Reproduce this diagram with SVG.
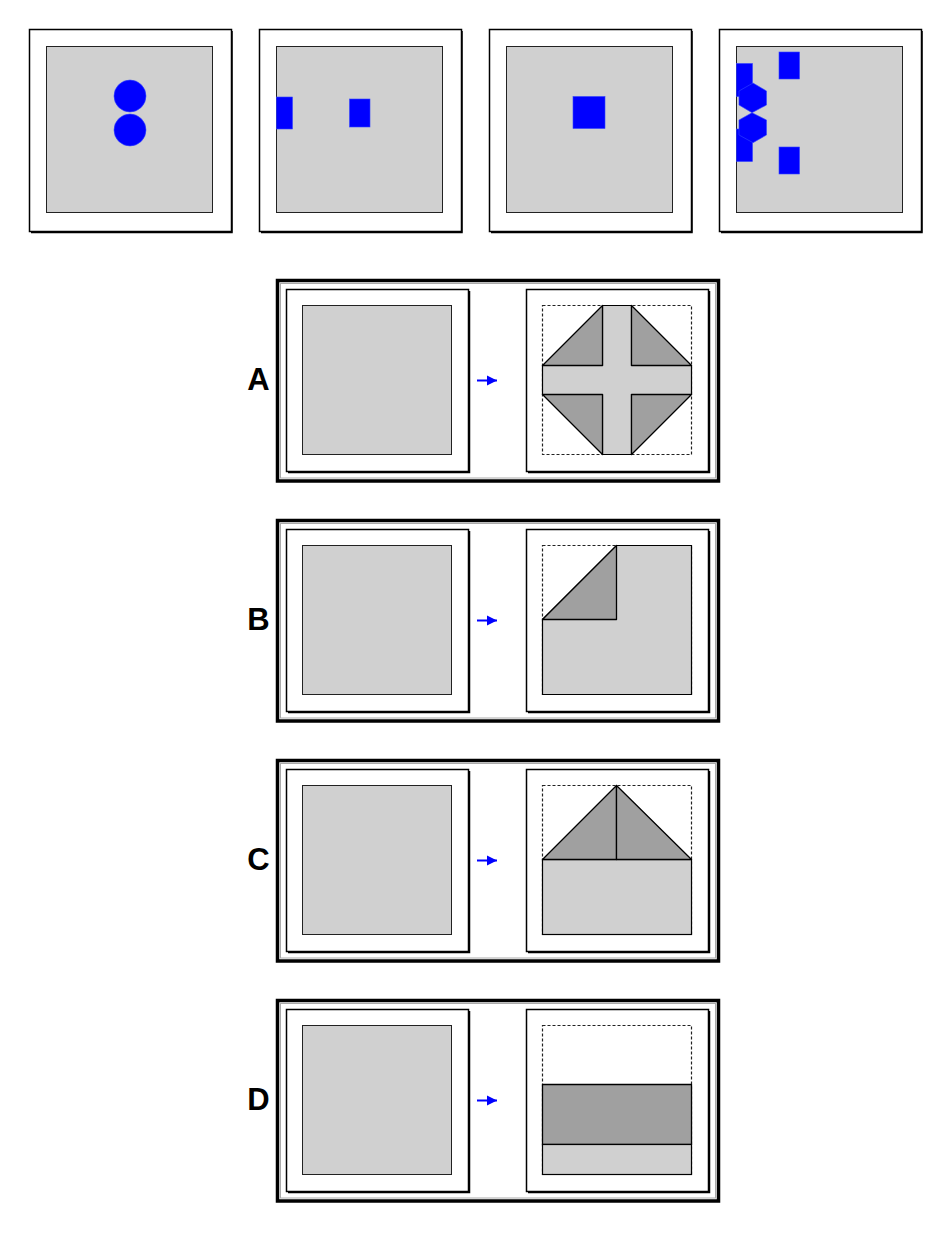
<svg xmlns="http://www.w3.org/2000/svg" width="950" height="1240" viewBox="0 0 950 1240">
<defs>
<style>
.frame{fill:#fff;stroke:#000;stroke-width:1.5}
.shadow{fill:none;stroke:#000;stroke-width:1.5}
.sq{fill:#d0d0d0;stroke:#222;stroke-width:1}
.blue{fill:#0000ff;stroke:#3344ff;stroke-width:0.6}
.opt{fill:#fff;stroke:#000;stroke-width:3.5}
.optin{fill:none;stroke:#aaa;stroke-width:1}
.dash{fill:#fff;stroke:#222;stroke-width:1.2;stroke-dasharray:3,2}
.lg{fill:#d0d0d0;stroke:#000;stroke-width:1.2}
.dk{fill:#a0a0a0;stroke:#000;stroke-width:1.3;stroke-linejoin:round}
.lbl{font-family:"Liberation Sans",Arial,sans-serif;font-weight:bold;font-size:31px;fill:#000;text-anchor:middle}
.arr{stroke:#0000ff;stroke-width:2;fill:none}
</style>
<marker id="ah" viewBox="0 0 10 10" refX="10" refY="5" markerWidth="10" markerHeight="11" markerUnits="userSpaceOnUse" orient="auto">
<path d="M0,0 L10,5 L0,10 Z" fill="#0000ff"/>
</marker>
<g id="panelFrame">
<rect class="frame" x="29.5" y="29.5" width="202" height="202"/>
<polyline class="shadow" points="232,31 232,232.5 31,232.5"/>
<rect class="sq" x="46.5" y="46.5" width="166" height="166"/>
</g>
<g id="boxFrame">
<rect class="frame" x="286.5" y="289.5" width="182" height="182"/>
<polyline class="shadow" points="469.5,291 469.5,472.5 288,472.5"/>
</g>
<g id="optFrame">
<rect class="opt" x="277.5" y="280.5" width="441" height="200.5"/>
<rect class="optin" x="280.5" y="283.5" width="435" height="194.5"/>
</g>
</defs>

<g id="q1">
<use href="#panelFrame"/>
<circle class="blue" cx="130" cy="96" r="16"/>
<circle class="blue" cx="130" cy="130" r="16"/>
</g>
<g id="q2">
<use href="#panelFrame" x="230"/>
<rect class="blue" x="276.5" y="97" width="16" height="32"/>
<rect class="blue" x="349.5" y="99" width="20.5" height="28"/>
</g>
<g id="q3">
<use href="#panelFrame" x="460"/>
<rect class="blue" x="573" y="96.5" width="32" height="32"/>
</g>
<g id="q4">
<use href="#panelFrame" x="690"/>
<rect class="blue" x="779" y="52" width="20.5" height="27"/>
<rect class="blue" x="779" y="147" width="20.5" height="27"/>
<rect class="blue" x="736.5" y="63.5" width="16" height="33"/>
<rect class="blue" x="736.5" y="129" width="16" height="32.5"/>
<polygon class="blue" points="753,83 766.5,91 766.5,105 752,112.7 739,105 739,91"/>
<polygon class="blue" points="752,112.7 766.5,120 766.5,135 753,142.7 739,135 739,120"/>
</g>

<g id="optA">
<use href="#optFrame"/>
<use href="#boxFrame"/>
<use href="#boxFrame" x="240"/>
<g transform="translate(0.5,0.5)">
<rect class="sq" x="302" y="305" width="149" height="149"/>
<rect class="dash" x="542" y="305" width="149" height="149"/>
<polygon class="lg" points="602,305 631,305 631,365 691,365 691,394 631,394 631,454 602,454 602,394 542,394 542,365 602,365"/>
<polygon class="dk" points="602,305 602,365 542,365"/>
<polygon class="dk" points="631,305 631,365 691,365"/>
<polygon class="dk" points="542,394 602,394 602,454"/>
<polygon class="dk" points="631,394 691,394 631,454"/>
</g>
<text class="lbl" x="258.5" y="389.5">A</text>
</g>

<g id="optB">
<use href="#optFrame" y="240"/>
<use href="#boxFrame" y="240"/>
<use href="#boxFrame" x="240" y="240"/>
<g transform="translate(0.5,0.5)">
<rect class="sq" x="302" y="545" width="149" height="149"/>
<rect class="dash" x="542" y="545" width="149" height="149"/>
<polygon class="lg" points="542,619 616,545 691,545 691,694 542,694"/>
<polygon class="dk" points="616,545 616,619 542,619"/>
</g>
<text class="lbl" x="258.5" y="629.5">B</text>
</g>

<g id="optC">
<use href="#optFrame" y="480"/>
<use href="#boxFrame" y="480"/>
<use href="#boxFrame" x="240" y="480"/>
<g transform="translate(0.5,0.5)">
<rect class="sq" x="302" y="785" width="149" height="149"/>
<rect class="dash" x="542" y="785" width="149" height="149"/>
<rect class="lg" x="542" y="859" width="149" height="75"/>
<polygon class="dk" points="542,859 616,785 616,859"/>
<polygon class="dk" points="616,785 691,859 616,859"/>
</g>
<text class="lbl" x="258.5" y="869.5">C</text>
</g>

<g id="optD">
<use href="#optFrame" y="720"/>
<use href="#boxFrame" y="720"/>
<use href="#boxFrame" x="240" y="720"/>
<g transform="translate(0.5,0.5)">
<rect class="sq" x="302" y="1025" width="149" height="149"/>
<rect class="dash" x="542" y="1025" width="149" height="149"/>
<rect class="dk" x="542" y="1084" width="149" height="60"/>
<rect class="lg" x="542" y="1144" width="149" height="30"/>
</g>
<text class="lbl" x="258.5" y="1109.5">D</text>
</g>

<g id="connectors">
<line class="arr" x1="477" y1="380.5" x2="497" y2="380.5" marker-end="url(#ah)"/>
<line class="arr" x1="477" y1="620.5" x2="497" y2="620.5" marker-end="url(#ah)"/>
<line class="arr" x1="477" y1="860.5" x2="497" y2="860.5" marker-end="url(#ah)"/>
<line class="arr" x1="477" y1="1100.5" x2="497" y2="1100.5" marker-end="url(#ah)"/>
</g>
</svg>
